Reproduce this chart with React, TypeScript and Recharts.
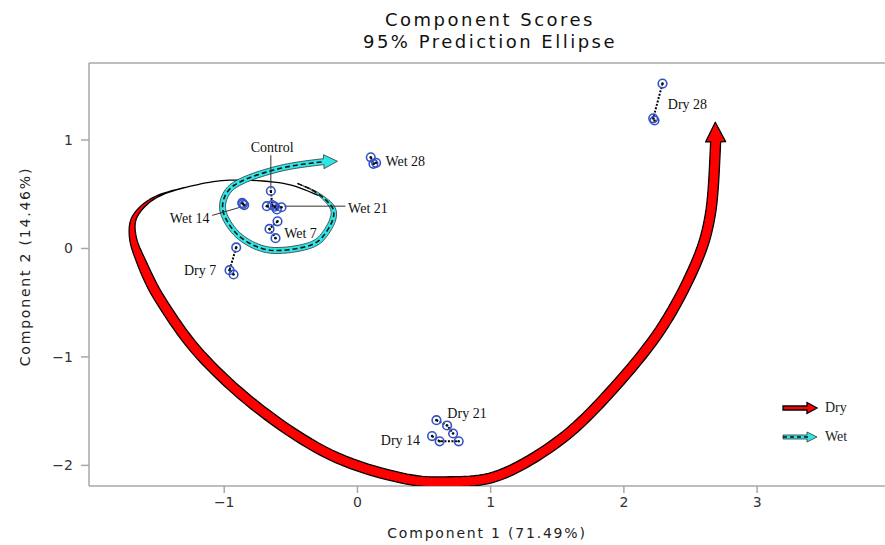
import React from 'react';
import { ScatterChart, Scatter, XAxis, YAxis, ReferenceLine } from 'recharts';

// replicate scores per group (Component 1, Component 2)
const control = [{ x: -0.65, y: 0.53 }, { x: -0.64, y: 0.4 }, { x: -0.605, y: 0.36 }];
const wet7 = [{ x: -0.6, y: 0.25 }, { x: -0.66, y: 0.18 }, { x: -0.615, y: 0.095 }];
const wet14 = [{ x: -0.865, y: 0.42 }, { x: -0.85, y: 0.4 }, { x: -0.86, y: 0.41 }];
const wet21 = [{ x: -0.68, y: 0.39 }, { x: -0.62, y: 0.385 }, { x: -0.57, y: 0.38 }];
const wet28 = [{ x: 0.1, y: 0.84 }, { x: 0.12, y: 0.78 }, { x: 0.14, y: 0.79 }];
const dry7 = [{ x: -0.91, y: 0.01 }, { x: -0.96, y: -0.2 }, { x: -0.93, y: -0.24 }];
const dry14 = [{ x: 0.56, y: -1.73 }, { x: 0.617, y: -1.778 }, { x: 0.76, y: -1.778 }];
const dry21 = [{ x: 0.593, y: -1.583 }, { x: 0.673, y: -1.632 }, { x: 0.718, y: -1.706 }];
const dry28 = [{ x: 2.29, y: 1.52 }, { x: 2.22, y: 1.2 }, { x: 2.23, y: 1.18 }];

// trajectory arrows (hand-drawn in the original)
const dryPath = [
  { x: -0.293, y: 0.49 }, { x: -0.555, y: 0.6 }, { x: -0.953, y: 0.63 }, { x: -1.253, y: 0.574 },
  { x: -1.515, y: 0.472 }, { x: -1.665, y: 0.307 }, { x: -1.688, y: 0.123 }, { x: -1.628, y: -0.107 },
  { x: -1.478, y: -0.476 }, { x: -1.178, y: -0.982 }, { x: -0.728, y: -1.488 }, { x: -0.203, y: -1.902 },
  { x: 0.323, y: -2.114 }, { x: 0.698, y: -2.151 }, { x: 1.073, y: -2.087 }, { x: 1.523, y: -1.764 },
  { x: 1.898, y: -1.322 }, { x: 2.273, y: -0.752 }, { x: 2.535, y: -0.154 }, { x: 2.648, y: 0.307 },
  { x: 2.686, y: 0.906 }, { x: 2.686, y: 1.164 },
];
const wetPath = [
  { x: -0.45, y: 0.6 }, { x: -0.3, y: 0.509 }, { x: -0.18, y: 0.353 }, { x: -0.225, y: 0.169 },
  { x: -0.353, y: 0.03 }, { x: -0.653, y: -0.016 }, { x: -0.878, y: 0.104 }, { x: -1.005, y: 0.325 },
  { x: -0.983, y: 0.509 }, { x: -0.855, y: 0.629 }, { x: -0.578, y: 0.739 }, { x: -0.293, y: 0.795 },
  { x: -0.15, y: 0.804 },
];

const groupLabels = [
  { x: -0.64, y: 0.935, text: 'Control', anchor: 'middle' },
  { x: 0.21, y: 0.8, text: 'Wet 28', anchor: 'start' },
  { x: -0.07, y: 0.37, text: 'Wet 21', anchor: 'start' },
  { x: -1.11, y: 0.28, text: 'Wet 14', anchor: 'end' },
  { x: -0.55, y: 0.14, text: 'Wet 7', anchor: 'start' },
  { x: -1.06, y: -0.2, text: 'Dry 7', anchor: 'end' },
  { x: 2.33, y: 1.33, text: 'Dry 28', anchor: 'start' },
  { x: 0.675, y: -1.52, text: 'Dry 21', anchor: 'start' },
  { x: 0.47, y: -1.77, text: 'Dry 14', anchor: 'end' },
];
const leaderControl = [{ x: -0.65, y: 0.55 }, { x: -0.65, y: 0.86 }];
const leaderWet21 = [{ x: -0.55, y: 0.39 }, { x: -0.09, y: 0.39 }];
const leaderWet14 = [{ x: -0.88, y: 0.38 }, { x: -1.09, y: 0.305 }];

const xTicks = [-1, 0, 1, 2, 3];
const yTicks = [-2, -1, 0, 1];
const xDomain = [-2.015, 3.96];
const yDomain = [-2.19, 1.71];

type P = { x: number; y: number };

function catmull(pts: P[], steps = 10): P[] {
  const out: P[] = [];
  for (let i = 0; i < pts.length - 1; i++) {
    const p0 = pts[i - 1] || pts[i];
    const p1 = pts[i];
    const p2 = pts[i + 1];
    const p3 = pts[i + 2] || pts[i + 1];
    for (let s = 0; s < steps; s++) {
      const t = s / steps, t2 = t * t, t3 = t2 * t;
      const f = (a: number, b: number, c: number, d: number) =>
        0.5 * (2 * b + (-a + c) * t + (2 * a - 5 * b + 4 * c - d) * t2 + (-a + 3 * b - 3 * c + d) * t3);
      out.push({ x: f(p0.x, p1.x, p2.x, p3.x), y: f(p0.y, p1.y, p2.y, p3.y) });
    }
  }
  out.push(pts[pts.length - 1]);
  return out;
}

// tapered band along the smoothed path, ending in an arrow head
function arrowPolygon(raw: P[], startW: number, maxW: number, t0: number, t1: number, headW: number, headL: number) {
  const pts = catmull(raw);
  const lens = [0];
  for (let i = 1; i < pts.length; i++) lens.push(lens[i - 1] + Math.hypot(pts[i].x - pts[i - 1].x, pts[i].y - pts[i - 1].y));
  const total = lens[lens.length - 1];
  const tip = pts[pts.length - 1];
  const shaft = pts.filter((_, i) => lens[i] <= total - headL);
  const left: number[][] = [];
  const right: number[][] = [];
  shaft.forEach((p, i) => {
    const a = shaft[Math.max(0, i - 1)], b = shaft[Math.min(shaft.length - 1, i + 1)];
    const dx = b.x - a.x, dy = b.y - a.y, d = Math.hypot(dx, dy) || 1;
    const f = Math.max(0, Math.min(1, (lens[i] - t0) / (t1 - t0)));
    const e = f * f * (3 - 2 * f);
    const w = (startW + (maxW - startW) * e) / 2;
    left.push([p.x - (dy / d) * w, p.y + (dx / d) * w]);
    right.push([p.x + (dy / d) * w, p.y - (dx / d) * w]);
  });
  const base = shaft[shaft.length - 1];
  const dx = tip.x - base.x, dy = tip.y - base.y, d = Math.hypot(dx, dy) || 1;
  const hw = headW / 2;
  const poly = [
    ...left,
    [base.x - (dy / d) * hw, base.y + (dx / d) * hw],
    [tip.x, tip.y],
    [base.x + (dy / d) * hw, base.y - (dx / d) * hw],
    ...right.reverse(),
  ];
  const center = 'M' + shaft.map((p) => `${p.x},${p.y}`).join('L');
  return { d: 'M' + poly.map((p) => p.join(',')).join('L') + 'Z', center };
}

const DryArrow = (props: any) => {
  const { d } = arrowPolygon(props.points, 0, 10, 130, 270, 20, 18);
  return <path d={d} fill="#ff0000" stroke="#000" strokeWidth={1.3} strokeLinejoin="round" />;
};

const WetArrow = (props: any) => {
  const { d, center } = arrowPolygon(props.points, 0, 6, 0, 60, 14, 13);
  return (
    <g>
      <path d={d} fill="#2de6e6" stroke="#333" strokeWidth={0.8} strokeLinejoin="round" />
      <path d={center} fill="none" stroke="#111" strokeWidth={1.6} strokeDasharray="5 3" />
    </g>
  );
};

const Marker = (props: any) => (
  <g>
    <circle cx={props.cx} cy={props.cy} r={4.3} fill="none" stroke="#3553c8" strokeWidth={1.6} />
    <circle cx={props.cx} cy={props.cy} r={1.3} fill="#111" />
  </g>
);

const Nothing = () => <g />;

const LabelText = (props: any) => (
  <text x={props.cx} y={props.cy} textAnchor={props.payload.anchor} dominantBaseline="central"
    fontFamily='"Liberation Serif", serif' fontSize={14} fill="#111">
    {props.payload.text}
  </text>
);

const groups = [control, wet7, wet14, wet21, wet28, dry7, dry14, dry21, dry28];

const LegendBox = () => (
  <div style={{ position: 'absolute', left: 781, top: 393, fontFamily: '"Liberation Serif", serif', fontSize: 14, color: '#222' }}>
    <div style={{ display: 'flex', alignItems: 'center', height: 29 }}>
      <svg width={38} height={14}>
        <path d="M2,5 L26,5 L26,1.5 L36,7 L26,12.5 L26,9 L2,9 Z" fill="#ff0000" stroke="#000" strokeWidth={1.3} />
      </svg>
      <span style={{ marginLeft: 6 }}>Dry</span>
    </div>
    <div style={{ display: 'flex', alignItems: 'center', height: 29 }}>
      <svg width={38} height={14}>
        <path d="M2,5 L26,5 L26,2 L36,7 L26,12 L26,9 L2,9 Z" fill="#2de6e6" stroke="#333" strokeWidth={0.8} />
        <path d="M2,7 L30,7" stroke="#111" strokeWidth={1.6} strokeDasharray="4 3" />
      </svg>
      <span style={{ marginLeft: 6 }}>Wet</span>
    </div>
  </div>
);

const fmt = (v: number) => (v < 0 ? '\u2212' + Math.abs(v) : String(v));
const sans = '"DejaVu Sans", sans-serif';

export default function App() {
  return (
    <div style={{ position: 'absolute', left: 0, top: 0, width: 885, height: 545, background: '#fff' }}>
      <div style={{ position: 'absolute', left: 290, width: 400, top: 9, textAlign: 'center', fontFamily: sans,
        fontSize: 18, letterSpacing: 2.5, lineHeight: '22px', color: '#111' }}>
        <div>Component Scores</div>
        <div>95% Prediction Ellipse</div>
      </div>
      <ScatterChart width={885} height={545} margin={{ top: 63, right: 0, bottom: 0, left: 0 }}>
        <XAxis type="number" dataKey="x" domain={xDomain} ticks={xTicks} allowDataOverflow
          tickFormatter={fmt} stroke="#a8a8a8" strokeWidth={1.5} tickSize={7} tickMargin={4}
          tick={{ fill: '#333', fontSize: 14, fontFamily: sans }} height={59}
          label={(p: any) => (
            <text x={p.viewBox.x + p.viewBox.width / 2} y={538} textAnchor="middle" fontFamily={sans}
              fontSize={14} letterSpacing={1.8} fill="#222">Component 1 (71.49%)</text>
          )} />
        <YAxis type="number" dataKey="y" domain={yDomain} ticks={yTicks} allowDataOverflow
          tickFormatter={fmt} stroke="#a8a8a8" strokeWidth={1.5} tickSize={8} tickMargin={8}
          tick={{ fill: '#333', fontSize: 14, fontFamily: sans }} width={89}
          label={(p: any) => (
            <text transform={`translate(30, ${p.viewBox.y + p.viewBox.height / 2 - 8}) rotate(-90)`}
              textAnchor="middle" fontFamily={sans} fontSize={14} letterSpacing={1.8} fill="#222">
              Component 2 (14.46%)
            </text>
          )} />
        <ReferenceLine y={yDomain[1]} stroke="#a8a8a8" strokeWidth={1.5} />
        <Scatter data={dryPath} line={DryArrow} lineType="joint" shape={Nothing} isAnimationActive={false} />
        <Scatter data={wetPath} line={WetArrow} lineType="joint" shape={Nothing} isAnimationActive={false} />
        {[leaderControl, leaderWet21, leaderWet14].map((l, i) => (
          <Scatter key={'l' + i} data={l} line={{ stroke: '#333', strokeWidth: 1 }} lineType="joint"
            shape={Nothing} isAnimationActive={false} />
        ))}
        {groups.map((g, i) => (
          <Scatter key={'g' + i} data={g} line={{ stroke: '#000', strokeWidth: 2, strokeDasharray: '2 1.5' }}
            lineType="joint" shape={Marker} isAnimationActive={false} />
        ))}
        <Scatter data={groupLabels} shape={LabelText} isAnimationActive={false} />
      </ScatterChart>
      <LegendBox />
    </div>
  );
}
